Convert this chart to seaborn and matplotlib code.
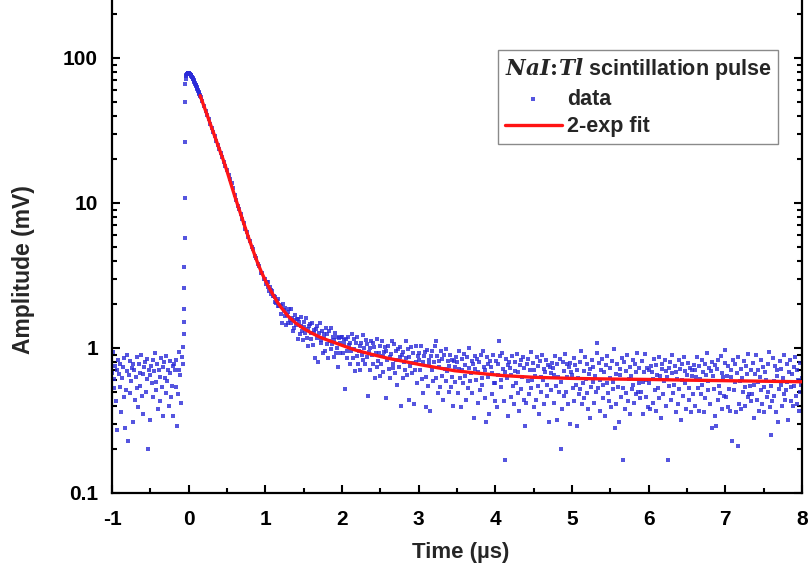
import numpy as np
import pandas as pd
import matplotlib
matplotlib.use("Agg")
import matplotlib.pyplot as plt
import seaborn as sns
from matplotlib.ticker import FuncFormatter, MultipleLocator, LogLocator, NullFormatter

# ---------------- data ----------------
# baseline before the pulse
time_pre = [-1.0, -0.99, -0.98, -0.97, -0.96, -0.95, -0.94, -0.93, -0.92, -0.91,
            -0.9, -0.89, -0.88, -0.87, -0.86, -0.85, -0.84, -0.83, -0.82, -0.81,
            -0.8, -0.79, -0.78, -0.77, -0.76, -0.75, -0.74, -0.73, -0.72, -0.71,
            -0.7, -0.69, -0.68, -0.67, -0.66, -0.65, -0.64, -0.63, -0.62, -0.61,
            -0.6, -0.59, -0.58, -0.57, -0.56, -0.55, -0.54, -0.53, -0.52, -0.51,
            -0.5, -0.49, -0.48, -0.47, -0.46, -0.45, -0.44, -0.43, -0.42, -0.41,
            -0.4, -0.39, -0.38, -0.37, -0.36, -0.35, -0.34, -0.33, -0.32, -0.31,
            -0.3, -0.29, -0.28, -0.27, -0.26, -0.25, -0.24, -0.23, -0.22, -0.21,
            -0.2, -0.19, -0.18, -0.17, -0.16, -0.15, -0.14, -0.13, -0.12, -0.11,
            -0.1, -0.09, -0.08, -0.07]
amp_pre = [.67, .94, .53, .61, .75, .43, .71, .27, .82, .66,
           .54, .78, .36, .62, .74, .46, .85, .28, .51, .90,
           .69, .23, .65, .49, .81, .59, .73, .31, .77, .70,
           .44, .63, .86, .53, .39, .78, .67, .55, .89, .47,
           .66, .35, .74, .80, .50, .61, .84, .20, .71, .65,
           .32, .75, .57, .82, .46, .69, .92, .51, .58, .77,
           .38, .70, .63, .43, .85, .54, .74, .34, .80, .62,
           .49, .88, .59, .71, .40, .67, .81, .46, .55, .75,
           .34, .77, .70, .54, .82, .29, .48, .71, .94, .65,
           .42, .87, .77, 1.02]

# fast rising edge
time_rise = [-0.064, -0.062, -0.06, -0.058, -0.056, -0.054, -0.052, -0.05, -0.048, -0.046]
amp_rise = [1.25, 1.5, 1.87, 2.6, 3.6, 5.7, 10.8, 26.5, 50, 66]

# pulse peak
time_peak = [-0.04, -0.035, -0.03, -0.025, -0.02, -0.015, -0.01, -0.005, 0.0, 0.005,
             0.01, 0.015, 0.02, 0.025, 0.03, 0.035, 0.04, 0.045, 0.05, 0.055,
             0.06, 0.065, 0.07, 0.075, 0.08, 0.085, 0.09, 0.095, 0.1, 0.105,
             0.11, 0.115, 0.12, 0.125, 0.13, 0.135, 0.14, 0.145, 0.15]
amp_peak = [72, 74.5, 76, 77, 77.8, 78.3, 78.6, 78.7, 78.6, 78.3,
            78, 77.5, 77, 76.4, 75.8, 75.1, 74.4, 73.6, 72.8, 72,
            71.1, 70.2, 69.3, 68.4, 67.5, 66.6, 65.6, 64.7, 63.7, 62.8,
            61.9, 61, 60, 59.1, 58.2, 57.3, 56.4, 55.5, 54.6]

# fast decay
time_decay = [0.16, 0.18, 0.2, 0.22, 0.24, 0.26, 0.28, 0.3, 0.32, 0.34,
              0.36, 0.38, 0.4, 0.42, 0.44, 0.46, 0.48, 0.5, 0.52, 0.54,
              0.56, 0.58, 0.6, 0.62, 0.64, 0.66, 0.68, 0.7, 0.72, 0.74,
              0.76, 0.78, 0.8, 0.82, 0.84, 0.86, 0.88, 0.9, 0.92, 0.94,
              0.96, 0.98]
amp_decay = [53.4, 50.1, 46.5, 43.4, 40.6, 37.9, 35.3, 33.0, 30.8, 28.9,
             26.9, 25.2, 23.6, 22.0, 20.6, 19.3, 18.0, 16.9, 15.7, 14.6,
             13.7, 12.6, 11.3, 10.5, 9.6, 9.1, 8.4, 7.8, 7.3, 6.6,
             6.3, 5.8, 5.5, 5.0, 4.8, 4.3, 4.2, 3.8, 3.7, 3.3,
             3.3, 3.0]

# slow tail, 1 us to 8 us
tail_t_1 = [1.0, 1.01, 1.02, 1.03, 1.04, 1.05, 1.06, 1.07, 1.08, 1.09,
            1.1, 1.11, 1.12, 1.13, 1.14, 1.15, 1.16, 1.17, 1.18, 1.19,
            1.2, 1.21, 1.22, 1.23, 1.24, 1.25, 1.26, 1.27, 1.28, 1.29,
            1.3, 1.31, 1.32, 1.33, 1.34, 1.35, 1.36, 1.37, 1.38, 1.39,
            1.4, 1.41, 1.42, 1.43, 1.44, 1.45, 1.46, 1.47, 1.48, 1.49,
            1.5, 1.51, 1.52, 1.53, 1.54, 1.55, 1.56, 1.57, 1.58, 1.59,
            1.6, 1.61, 1.62, 1.63, 1.64, 1.65, 1.66, 1.67, 1.68, 1.69,
            1.7, 1.71, 1.72, 1.73, 1.74, 1.75, 1.76, 1.77, 1.78, 1.79,
            1.8, 1.81, 1.82, 1.83, 1.84, 1.85, 1.86, 1.87, 1.88, 1.89,
            1.9, 1.91, 1.92, 1.93, 1.94, 1.95, 1.96, 1.97, 1.98, 1.99]
tail_a_1 = [3.00, 2.78, 2.83, 2.87, 2.64, 2.46, 2.62, 2.50, 2.37, 2.48,
            2.28, 2.29, 2.08, 2.24, 2.03, 2.10, 2.19, 1.95, 1.96, 1.99,
            1.71, 1.96, 1.49, 2.01, 1.82, 1.67, 1.88, 1.44, 1.68, 1.78,
            1.49, 1.86, 1.56, 1.48, 1.85, 1.62, 1.32, 1.55, 1.38, 1.68,
            1.45, 1.58, 1.15, 1.59, 1.51, 1.24, 1.42, 1.64, 1.30, 1.14,
            1.52, 1.40, 1.27, 1.60, 1.17, 1.35, 1.03, 1.41, 1.46, 1.16,
            1.26, 1.48, 1.05, 1.34, 1.27, 0.85, 1.35, 1.17, 1.41, 0.80,
            1.27, 1.49, 1.08, 1.14, 1.32, 0.93, 1.24, 1.17, 0.96, 1.38,
            1.06, 1.25, 0.85, 1.30, 1.12, 0.98, 1.37, 1.07, 1.19, 0.87,
            1.14, 1.27, 0.92, 1.00, 1.20, 0.74, 1.17, 1.09, 0.93, 1.20]

tail_t_2 = [2.0, 2.01, 2.02, 2.03, 2.04, 2.05, 2.06, 2.07, 2.08, 2.09,
            2.1, 2.11, 2.12, 2.13, 2.14, 2.15, 2.16, 2.17, 2.18, 2.19,
            2.2, 2.21, 2.22, 2.23, 2.24, 2.25, 2.26, 2.27, 2.28, 2.29,
            2.3, 2.31, 2.32, 2.33, 2.34, 2.35, 2.36, 2.37, 2.38, 2.39,
            2.4, 2.41, 2.42, 2.43, 2.44, 2.45, 2.46, 2.47, 2.48, 2.49,
            2.5, 2.51, 2.52, 2.53, 2.54, 2.55, 2.56, 2.57, 2.58, 2.59,
            2.6, 2.61, 2.62, 2.63, 2.64, 2.65, 2.66, 2.67, 2.68, 2.69,
            2.7, 2.71, 2.72, 2.73, 2.74, 2.75, 2.76, 2.77, 2.78, 2.79,
            2.8, 2.81, 2.82, 2.83, 2.84, 2.85, 2.86, 2.87, 2.88, 2.89,
            2.9, 2.91, 2.92, 2.93, 2.94, 2.95, 2.96, 2.97, 2.98, 2.99]
tail_a_2 = [1.20, 0.92, 1.07, 1.14, 0.52, 1.15, 0.95, 0.85, 1.20, 1.05,
            0.78, 1.09, 0.96, 1.25, 0.85, 0.98, 1.15, 0.69, 1.08, 0.88,
            1.19, 0.77, 0.96, 1.03, 0.71, 1.09, 0.90, 0.83, 1.23, 1.00,
            0.77, 1.13, 0.87, 1.06, 0.47, 0.94, 1.00, 0.71, 1.12, 0.89,
            0.78, 1.08, 1.01, 0.62, 0.93, 0.74, 1.15, 0.81, 0.93, 1.04,
            0.64, 0.78, 1.11, 0.88, 0.68, 0.94, 1.01, 0.45, 0.96, 0.82,
            1.04, 0.72, 0.87, 0.62, 0.91, 1.12, 0.73, 0.78, 1.06, 0.67,
            0.95, 0.83, 0.56, 0.98, 0.74, 0.86, 1.02, 0.40, 0.90, 0.62,
            0.94, 0.80, 0.71, 1.12, 0.85, 0.65, 0.98, 0.44, 0.87, 0.75,
            1.01, 0.67, 0.79, 0.93, 0.41, 0.71, 1.04, 0.80, 0.57, 0.88]

tail_t_3 = [3.0, 3.01, 3.02, 3.03, 3.04, 3.05, 3.06, 3.07, 3.08, 3.09,
            3.1, 3.11, 3.12, 3.13, 3.14, 3.15, 3.16, 3.17, 3.18, 3.19,
            3.2, 3.21, 3.22, 3.23, 3.24, 3.25, 3.26, 3.27, 3.28, 3.29,
            3.3, 3.31, 3.32, 3.33, 3.34, 3.35, 3.36, 3.37, 3.38, 3.39,
            3.4, 3.41, 3.42, 3.43, 3.44, 3.45, 3.46, 3.47, 3.48, 3.49,
            3.5, 3.51, 3.52, 3.53, 3.54, 3.55, 3.56, 3.57, 3.58, 3.59,
            3.6, 3.61, 3.62, 3.63, 3.64, 3.65, 3.66, 3.67, 3.68, 3.69,
            3.7, 3.71, 3.72, 3.73, 3.74, 3.75, 3.76, 3.77, 3.78, 3.79,
            3.8, 3.81, 3.82, 3.83, 3.84, 3.85, 3.86, 3.87, 3.88, 3.89,
            3.9, 3.91, 3.92, 3.93, 3.94, 3.95, 3.96, 3.97, 3.98, 3.99]
tail_a_3 = [.93, .82, .70, 1.04, .61, .80, .49, .88, .94, .63,
            .39, .97, .55, .83, .78, .37, .88, .70, .95, .59,
            .80, 1.03, .62, 1.12, .88, .49, .81, .74, .54, .96,
            .64, .84, .44, .90, .72, .59, .98, .69, .81, .50,
            .75, .89, .54, .63, .83, .40, .81, .74, .58, .86,
            .80, .49, .72, .95, .62, .39, .84, .70, .57, .91,
            .64, .76, .44, .86, .53, .73, 1.00, .59, .67, .81,
            .49, .77, .33, .88, .72, .60, .84, .42, .68, .80,
            .51, .90, .62, .56, .95, .74, .45, .70, .31, .86,
            .63, .77, .35, .81, .74, .48, .67, .90, .57, .43]

tail_t_4 = [4.0, 4.01, 4.02, 4.03, 4.04, 4.05, 4.06, 4.07, 4.08, 4.09,
            4.1, 4.11, 4.12, 4.13, 4.14, 4.15, 4.16, 4.17, 4.18, 4.19,
            4.2, 4.21, 4.22, 4.23, 4.24, 4.25, 4.26, 4.27, 4.28, 4.29,
            4.3, 4.31, 4.32, 4.33, 4.34, 4.35, 4.36, 4.37, 4.38, 4.39,
            4.4, 4.41, 4.42, 4.43, 4.44, 4.45, 4.46, 4.47, 4.48, 4.49,
            4.5, 4.51, 4.52, 4.53, 4.54, 4.55, 4.56, 4.57, 4.58, 4.59,
            4.6, 4.61, 4.62, 4.63, 4.64, 4.65, 4.66, 4.67, 4.68, 4.69,
            4.7, 4.71, 4.72, 4.73, 4.74, 4.75, 4.76, 4.77, 4.78, 4.79,
            4.8, 4.81, 4.82, 4.83, 4.84, 4.85, 4.86, 4.87, 4.88, 4.89,
            4.9, 4.91, 4.92, 4.93, 4.94, 4.95, 4.96, 4.97, 4.98, 4.99]
tail_a_4 = [.57, .81, .39, .65, .77, 1.12, .88, .60, .54, .93,
            .72, .43, .68, .17, .84, .62, .76, .34, .80, .73,
            .46, .65, .88, .55, .41, .80, .69, .57, .91, .49,
            .68, .37, .76, .82, .52, .63, .86, .44, .73, .29,
            .42, .77, .59, .84, .48, .71, .94, .53, .60, .79,
            .39, .71, .64, .44, .86, .55, .75, .35, .81, .63,
            .50, .89, .60, .72, .41, .68, .82, .47, .56, .76,
            .31, .74, .67, .51, .79, .73, .42, .65, .88, .55,
            .32, .77, .63, .50, .84, .58, .20, .38, .80, .47,
            .69, .91, .50, .63, .78, .41, .74, .30, .79, .68]

tail_t_5 = [5.0, 5.01, 5.02, 5.03, 5.04, 5.05, 5.06, 5.07, 5.08, 5.09,
            5.1, 5.11, 5.12, 5.13, 5.14, 5.15, 5.16, 5.17, 5.18, 5.19,
            5.2, 5.21, 5.22, 5.23, 5.24, 5.25, 5.26, 5.27, 5.28, 5.29,
            5.3, 5.31, 5.32, 5.33, 5.34, 5.35, 5.36, 5.37, 5.38, 5.39,
            5.4, 5.41, 5.42, 5.43, 5.44, 5.45, 5.46, 5.47, 5.48, 5.49,
            5.5, 5.51, 5.52, 5.53, 5.54, 5.55, 5.56, 5.57, 5.58, 5.59,
            5.6, 5.61, 5.62, 5.63, 5.64, 5.65, 5.66, 5.67, 5.68, 5.69,
            5.7, 5.71, 5.72, 5.73, 5.74, 5.75, 5.76, 5.77, 5.78, 5.79,
            5.8, 5.81, 5.82, 5.83, 5.84, 5.85, 5.86, 5.87, 5.88, 5.89,
            5.9, 5.91, 5.92, 5.93, 5.94, 5.95, 5.96, 5.97, 5.98, 5.99]
tail_a_5 = [.65, .53, .85, .43, .76, .56, .29, .70, .62, .48,
            .80, .52, .96, .41, .57, .69, .45, .87, .61, .49,
            .77, .38, .66, .72, .33, .54, .83, .58, .74, .42,
            .64, .50, .92, 1.08, .53, .79, .60, .37, .70, .84,
            .45, .56, .68, .34, .76, .57, .88, .49, .43, .73,
            .62, .39, .81, .52, .58, .99, .28, .66, .41, .77,
            .54, .31, .72, .65, .46, .85, .53, .17, .80, .38,
            .69, .49, .89, .43, .61, .74, .35, .64, .52, .83,
            .56, .42, .77, .68, .48, .93, .50, .57, .73, .45,
            .50, .81, .58, .35, .68, .91, .46, .60, .73, .39]

tail_t_6 = [6.0, 6.01, 6.02, 6.03, 6.04, 6.05, 6.06, 6.07, 6.08, 6.09,
            6.1, 6.11, 6.12, 6.13, 6.14, 6.15, 6.16, 6.17, 6.18, 6.19,
            6.2, 6.21, 6.22, 6.23, 6.24, 6.25, 6.26, 6.27, 6.28, 6.29,
            6.3, 6.31, 6.32, 6.33, 6.34, 6.35, 6.36, 6.37, 6.38, 6.39,
            6.4, 6.41, 6.42, 6.43, 6.44, 6.45, 6.46, 6.47, 6.48, 6.49,
            6.5, 6.51, 6.52, 6.53, 6.54, 6.55, 6.56, 6.57, 6.58, 6.59,
            6.6, 6.61, 6.62, 6.63, 6.64, 6.65, 6.66, 6.67, 6.68, 6.69,
            6.7, 6.71, 6.72, 6.73, 6.74, 6.75, 6.76, 6.77, 6.78, 6.79,
            6.8, 6.81, 6.82, 6.83, 6.84, 6.85, 6.86, 6.87, 6.88, 6.89,
            6.9, 6.91, 6.92, 6.93, 6.94, 6.95, 6.96, 6.97, 6.98, 6.99]
tail_a_6 = [.57, .71, .38, .75, .68, .42, .61, .84, .51, .37,
            .76, .65, .53, .87, .45, .64, .33, .72, .78, .48,
            .59, .82, .40, .69, .63, .17, .73, .55, .80, .44,
            .67, .90, .49, .56, .75, .36, .68, .61, .41, .83,
            .52, .72, .32, .78, .60, .47, .86, .57, .69, .38,
            .65, .79, .44, .53, .73, .36, .71, .64, .48, .76,
            .71, .40, .63, .86, .53, .37, .75, .61, .48, .82,
            .56, .68, .36, .78, .45, .65, .92, .51, .59, .73,
            .41, .69, .28, .80, .64, .52, .76, .34, .29, .72,
            .44, .83, .55, .49, .88, .67, .38, .63, .47, .79]

tail_t_7 = [7.0, 7.01, 7.02, 7.03, 7.04, 7.05, 7.06, 7.07, 7.08, 7.09,
            7.1, 7.11, 7.12, 7.13, 7.14, 7.15, 7.16, 7.17, 7.18, 7.19,
            7.2, 7.21, 7.22, 7.23, 7.24, 7.25, 7.26, 7.27, 7.28, 7.29,
            7.3, 7.31, 7.32, 7.33, 7.34, 7.35, 7.36, 7.37, 7.38, 7.39,
            7.4, 7.41, 7.42, 7.43, 7.44, 7.45, 7.46, 7.47, 7.48, 7.49,
            7.5, 7.51, 7.52, 7.53, 7.54, 7.55, 7.56, 7.57, 7.58, 7.59,
            7.6, 7.61, 7.62, 7.63, 7.64, 7.65, 7.66, 7.67, 7.68, 7.69,
            7.7, 7.71, 7.72, 7.73, 7.74, 7.75, 7.76, 7.77, 7.78, 7.79,
            7.8, 7.81, 7.82, 7.83, 7.84, 7.85, 7.86, 7.87, 7.88, 7.89,
            7.9, 7.91, 7.92, 7.93, 7.94, 7.95, 7.96, 7.97, 7.98, 7.99,
            8.0]
tail_a_7 = [.97, .46, .64, .39, .75, .52, .37, .70, .63, .23,
            .83, .51, .58, .78, .36, .67, .21, .87, .41, .59,
            .72, .38, .62, .50, .81, .54, .40, .75, .66, .46,
            .91, .48, .55, .71, .43, .48, .79, .56, .33, .66,
            .89, .44, .58, .71, .37, .63, .51, .83, .41, .74,
            .54, .36, .68, .60, .46, .78, .50, .94, .39, .55,
            .25, .43, .85, .59, .47, .75, .36, .64, .70, .31,
            .52, .81, .56, .72, .40, .62, .48, .90, .44, .51,
            .77, .58, .32, .68, .82, .43, .54, .66, .40, .74,
            .55, .86, .47, .41, .71, .60, .37, .79, .50, .56,
            .62]

# 2-exponential fit curve
fit_t = [0.15, 0.2, 0.25, 0.3, 0.35, 0.4, 0.45, 0.5, 0.55, 0.6,
         0.65, 0.7, 0.75, 0.8, 0.85, 0.9, 0.95, 1.0, 1.05, 1.1,
         1.15, 1.2, 1.3, 1.4, 1.5, 1.6, 1.74, 1.9, 2.05, 2.17,
         2.4, 2.6, 2.8, 3.04, 3.25, 3.47, 3.75, 4.1, 4.5, 5.0,
         5.5, 6.07, 6.5, 7.0, 7.5, 8.0]
fit_amp = [55, 46.4, 39.2, 33, 27.9, 23.5, 19.9, 16.6, 13.6, 11.2,
           9.3, 7.75, 6.45, 5.4, 4.55, 3.85, 3.33, 2.92, 2.6, 2.33,
           2.1, 1.92, 1.65, 1.48, 1.36, 1.27, 1.17, 1.09, 1.02, 0.969,
           0.9, 0.849, 0.81, 0.764, 0.73, 0.697, 0.672, 0.645, 0.628, 0.617,
           0.611, 0.606, 0.6, 0.595, 0.59, 0.585]

x_ticks = [-1, 0, 1, 2, 3, 4, 5, 6, 7, 8]
y_ticks = [0.1, 1, 10, 100]

# ---------------- plotting ----------------
sns.set_style("ticks")
plt.rcParams.update({
    "font.family": ["Liberation Sans", "DejaVu Sans"],
    "font.weight": "bold",
    "axes.labelweight": "bold",
    "mathtext.fontset": "custom",
    "mathtext.it": "DejaVu Serif:italic:bold",
    "mathtext.rm": "DejaVu Serif:bold",
    "axes.linewidth": 1.6,
    "axes.edgecolor": "black",
    "xtick.color": "black",
    "ytick.color": "black",
})

data = pd.DataFrame({
    "time": time_pre + time_rise + time_peak + time_decay + tail_t_1 + tail_t_2
            + tail_t_3 + tail_t_4 + tail_t_5 + tail_t_6 + tail_t_7,
    "amp": amp_pre + amp_rise + amp_peak + amp_decay + tail_a_1 + tail_a_2
           + tail_a_3 + tail_a_4 + tail_a_5 + tail_a_6 + tail_a_7,
})
fit = pd.DataFrame({"time": fit_t, "amp": fit_amp})

fig = plt.figure(figsize=(8.08, 5.64), dpi=100)
ax = fig.add_axes([112 / 808, 71 / 564, 690 / 808, 493 / 564])

sns.scatterplot(data=data, x="time", y="amp", ax=ax, marker="s", s=11,
                color="#2a2ad8", linewidth=0, alpha=0.8, label="data", zorder=2)
sns.lineplot(data=fit, x="time", y="amp", ax=ax, color="#ff1414", linewidth=2.4,
             label="2-exp fit", zorder=3, estimator=None)

ax.set_yscale("log")
ax.set_xlim(-1, 8)
ax.set_ylim(0.1, 251)
ax.set_xticks(x_ticks)
ax.set_xticklabels([str(v) for v in x_ticks])
ax.xaxis.set_minor_locator(MultipleLocator(0.5))
ax.set_yticks(y_ticks)
ax.yaxis.set_major_formatter(FuncFormatter(lambda v, p: f"{v:g}"))
ax.yaxis.set_minor_locator(LogLocator(base=10, subs=np.arange(2, 10) * 1.0, numticks=20))
ax.yaxis.set_minor_formatter(NullFormatter())

ax.tick_params(which="both", direction="in", top=False, right=True, width=1.5)
ax.tick_params(which="major", length=6, labelsize=15)
ax.tick_params(axis="x", which="major", pad=12)
ax.tick_params(axis="y", which="major", pad=10)
ax.tick_params(which="minor", length=3.5)
for lab in ax.get_xticklabels() + ax.get_yticklabels():
    lab.set_fontweight("bold")
ax.spines["top"].set_visible(False)

ax.set_xlabel("Time (µs)", fontsize=16, fontweight="bold")
ax.set_ylabel("Amplitude (mV)", fontsize=16.5, fontweight="bold")
ax.xaxis.set_label_coords(0.506, -0.1)
ax.yaxis.set_label_coords(-0.112, 0.454)

leg = ax.legend(title=r"$\mathit{NaI}\!:\!\mathit{Tl}$ scintillation pulse",
                loc="upper right", bbox_to_anchor=(0.965, 0.899), borderaxespad=0,
                fontsize=15.5, title_fontproperties={"weight": "bold", "size": 15.5},
                alignment="left", frameon=True, fancybox=False, framealpha=1,
                edgecolor="#8a8a8a", handlelength=2.65, handletextpad=0.25,
                labelspacing=0.3, borderpad=0.3, markerscale=0.8)
leg.get_frame().set_linewidth(1.0)
for t in leg.get_texts():
    t.set_fontweight("bold")

fig.savefig("out.png", dpi=100)
